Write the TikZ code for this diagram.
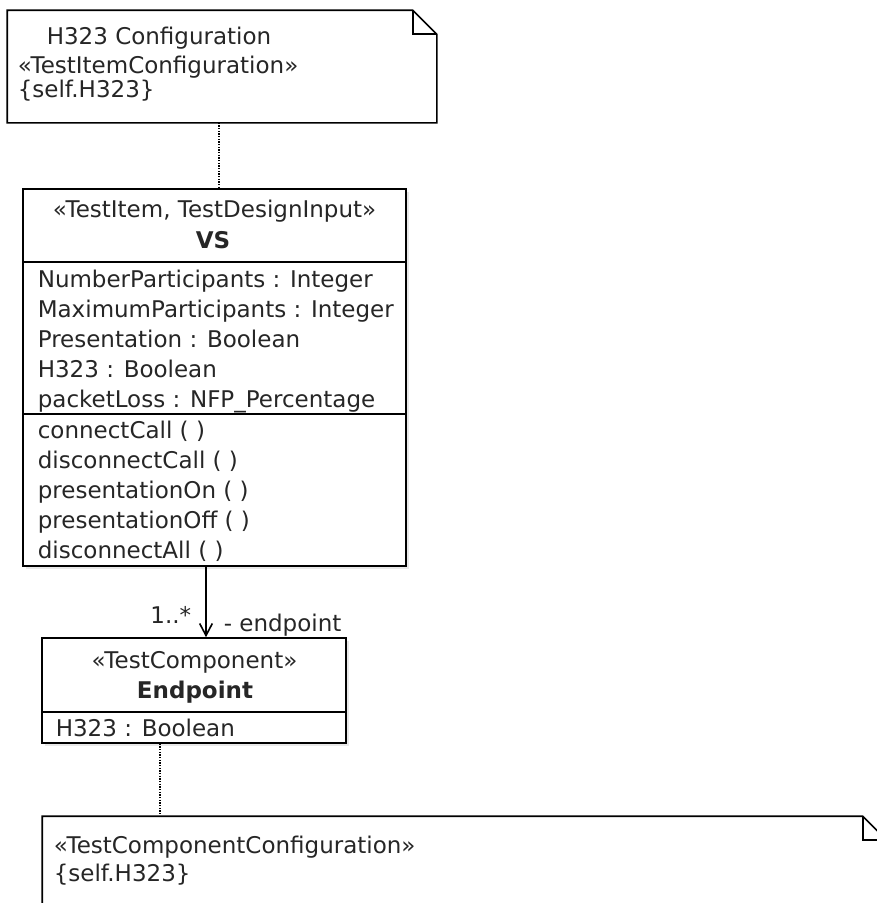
\documentclass[tikz,border=0pt]{standalone}
\usepackage{fontspec}
\setmainfont{DejaVu Sans}
\usetikzlibrary{arrows.meta, calc, fit, shadows}

\begin{document}
\begin{tikzpicture}[x=0.75pt, y=-0.75pt, line width=1.2pt,
  every node/.style={inner sep=0pt, text=black!85,
    font=\fontsize{17.25}{22.5}\selectfont},
  classbox/.style={draw, fill=white,
    drop shadow={shadow xshift=2pt, shadow yshift=-2pt, opacity=0.18}},
  notearea/.style={inner sep=0pt},
  noteline/.style={draw, fill=white, line join=miter},
  tie/.style={dash pattern=on 1pt off 1pt, line width=0.8pt},
  assoc/.style={-{Straight Barb[length=9pt, width=9.5pt]}}]
  \useasboundingbox (0,0) rectangle (877,903);
  \clip (0,0) rectangle (877,903);

  % note oben
  \node[notearea, fit={(8,11)(436,122)}] (itemcfg) {};
  \draw[noteline] (itemcfg.north west) -- ($(itemcfg.north east)+(-24,0)$)
    -- ($(itemcfg.north east)+(0,24)$) -- (itemcfg.south east)
    -- (itemcfg.south west) -- cycle;
  \draw ($(itemcfg.north east)+(-24,0)$) |- ($(itemcfg.north east)+(0,24)$);
  % base = letzte zeile
  \node[anchor=base west, align=left] (itemcfg-txt) at (17,97)
    {\hspace*{21.75pt}H323 Configuration\\[-0.75pt] «TestItemConfiguration»\\[-4.5pt] \{self.H323\}};

  % klasse VS
  \node[classbox, fit={(23,189)(406,566)}] (vs) {};
  \draw (vs.west |- 0,262) -- (vs.east |- 0,262);
  \draw (vs.west |- 0,414) -- (vs.east |- 0,414);
  \node[anchor=base] (vs-st) at (214.5,217) {«TestItem, TestDesignInput»};
  \node[anchor=base, font=\fontsize{17.25}{22.5}\selectfont\bfseries] (vs-name) at (213,248) {VS};
  \node[anchor=base west, align=left] (vs-attr) at (37,407)
    {NumberParticipants : Integer\\ MaximumParticipants : Integer\\ Presentation : Boolean\\
     H323 : Boolean\\ packetLoss : NFP\_Percentage};
  \node[anchor=base west, align=left] (vs-ops) at (37,558)
    {connectCall ( )\\ disconnectCall ( )\\ presentationOn ( )\\ presentationOff ( )\\ disconnectAll ( )};

  % klasse Endpoint
  \node[classbox, fit={(42,638)(346,743)}] (ep) {};
  \draw (ep.west |- 0,712) -- (ep.east |- 0,712);
  \node[anchor=base] (ep-st) at (194.5,668) {«TestComponent»};
  \node[anchor=base, font=\fontsize{17.25}{22.5}\selectfont\bfseries] (ep-name) at (195,698) {Endpoint};
  \node[anchor=base west] (ep-attr) at (55,736) {H323 : Boolean};

  % assoziation
  \coordinate (ax) at (206,0);
  \draw[assoc] (vs.south -| ax) -- (ep.north -| ax);
  \node[anchor=base east] (mult) at (192,623) {1..*};
  \node[anchor=base west] (role) at (223,631) {- endpoint};

  % note unten
  \node[notearea, fit={(43,817)(886,940)}] (compcfg) {};
  \draw[noteline] (compcfg.north west) -- ($(compcfg.north east)+(-24,0)$)
    -- ($(compcfg.north east)+(0,24)$) -- (compcfg.south east)
    -- (compcfg.south west) -- cycle;
  \draw ($(compcfg.north east)+(-24,0)$) |- ($(compcfg.north east)+(0,24)$);
  \node[anchor=base west, align=left] (compcfg-txt) at (53,881)
    {«TestComponentConfiguration»\\[-1.5pt] \{self.H323\}};

  % verbindungen zu den notes
  \draw[tie] (itemcfg.south -| 219,0) -- (vs.north -| 219,0);
  \draw[tie] (ep.south -| 160,0) -- (compcfg.north -| 160,0);
\end{tikzpicture}
\end{document}
